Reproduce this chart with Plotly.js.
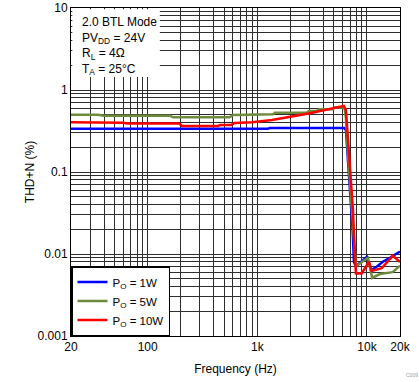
<!DOCTYPE html>
<html>
<head>
<meta charset="utf-8">
<script src="https://cdn.plot.ly/plotly-3.0.1.min.js"></script>
<style>html,body{margin:0;padding:0;background:#fff;}#chart{width:419px;height:382px;}</style>
</head>
<body>
<div id="chart"></div>
<script>
// Frequency (Hz) and THD+N (%)
const freq1W = [20, 1250, 1300, 6200, 6425, 6600, 7090, 7400, 7600, 7925, 9980, 11020, 12240, 14060, 16180, 20000];
const thd1W  = [0.337, 0.337, 0.345, 0.345, 0.325, 0.185, 0.0456, 0.0196, 0.0080, 0.0071, 0.0092, 0.0064, 0.0070, 0.0081, 0.0090, 0.0107];

const freq5W = [20, 35, 40, 160, 170, 560, 600, 900, 950, 1390, 1450, 2830, 2950, 3500, 3650, 4890, 5050, 6040, 6250, 6425, 6700, 7250, 7550, 7925, 10200, 11160, 13120, 17140, 20000];
const thd5W  = [0.50, 0.50, 0.486, 0.486, 0.465, 0.465, 0.497, 0.497, 0.506, 0.506, 0.529, 0.529, 0.555, 0.555, 0.582, 0.582, 0.612, 0.615, 0.60, 0.45, 0.17, 0.04, 0.016, 0.0071, 0.0090, 0.0051, 0.0057, 0.0060, 0.0072];

const freq10W = [20, 60, 65, 195, 205, 440, 460, 580, 620, 900, 1360, 3020, 4890, 6160, 6425, 6840, 7450, 7680, 7925, 8930, 10420, 11020, 13600, 17220, 20000];
const thd10W  = [0.405, 0.40, 0.39, 0.39, 0.365, 0.365, 0.375, 0.375, 0.396, 0.405, 0.43, 0.52, 0.598, 0.64, 0.57, 0.161, 0.0344, 0.0129, 0.0058, 0.0058, 0.0080, 0.0062, 0.0067, 0.0095, 0.0080];

const seriesNames = ['P<sub>O</sub> = 1W', 'P<sub>O</sub> = 5W', 'P<sub>O</sub> = 10W'];

const xTickVals = [20, 30, 40, 50, 60, 70, 80, 90, 100, 200, 300, 400, 500, 600, 700, 800, 900, 1000, 2000, 3000, 4000, 5000, 6000, 7000, 8000, 9000, 10000, 20000];
const xTickText = ['20', '', '', '', '', '', '', '', '100', '', '', '', '', '', '', '', '', '1k', '', '', '', '', '', '', '', '', '10k', '20k'];

const yTickVals = [0.001, 0.002, 0.003, 0.004, 0.005, 0.006, 0.007, 0.008, 0.009, 0.01, 0.02, 0.03, 0.04, 0.05, 0.06, 0.07, 0.08, 0.09, 0.1, 0.2, 0.3, 0.4, 0.5, 0.6, 0.7, 0.8, 0.9, 1, 2, 3, 4, 5, 6, 7, 8, 9, 10];
const yTickText = ['0.001', '', '', '', '', '', '', '', '', '0.01', '', '', '', '', '', '', '', '', '0.1', '', '', '', '', '', '', '', '', '1', '', '', '', '', '', '', '', '', '10'];

const conditionsText = '2.0 BTL Mode<br>PV<sub>DD</sub> = 24V<br>R<sub>L</sub> = 4Ω<br>T<sub>A</sub> = 25°C';

const FONT = 'Liberation Sans, Arial, sans-serif';
const GRID = '#2e2e2e';

const traces = [
  {x: freq1W, y: thd1W, name: seriesNames[0], line: {color: '#0000FF', width: 2.5}},
  {x: freq5W, y: thd5W, name: seriesNames[1], line: {color: '#6E8B3D', width: 2.5}},
  {x: freq10W, y: thd10W, name: seriesNames[2], line: {color: '#FF0000', width: 2.5}}
].map(t => Object.assign({type: 'scatter', mode: 'lines'}, t));

const layout = {
  width: 419, height: 382,
  margin: {l: 71, r: 19, t: 8, b: 46},
  paper_bgcolor: '#ffffff', plot_bgcolor: '#ffffff',
  font: {family: FONT, size: 12, color: '#000'},
  showlegend: true,
  legend: {
    x: 0, y: 0, xanchor: 'left', yanchor: 'bottom',
    bgcolor: '#ffffff', bordercolor: '#000', borderwidth: 1.5,
    font: {family: FONT, size: 11.5, color: '#000'},
    tracegroupgap: 0, itemwidth: 30
  },
  xaxis: {
    type: 'log', range: [Math.log10(20), Math.log10(20000)],
    tickmode: 'array', tickvals: xTickVals, ticktext: xTickText,
    ticks: '', showgrid: true, gridcolor: GRID, gridwidth: 1,
    showline: true, linecolor: '#000', linewidth: 1, mirror: true,
    zeroline: false, automargin: false,
    tickfont: {family: FONT, size: 12, color: '#000'},
    title: {text: 'Frequency (Hz)', font: {family: FONT, size: 12, color: '#000'}, standoff: 11}
  },
  yaxis: {
    type: 'log', range: [-3, 1],
    tickmode: 'array', tickvals: yTickVals, ticktext: yTickText,
    ticks: '', showgrid: true, gridcolor: GRID, gridwidth: 1,
    showline: true, linecolor: '#000', linewidth: 1, mirror: true,
    zeroline: false, automargin: false,
    tickfont: {family: FONT, size: 12, color: '#000'},
    title: {text: 'THD+N (%)', font: {family: FONT, size: 12, color: '#000'}, standoff: 0}
  },
  shapes: [{
    type: 'rect', xref: 'paper', yref: 'paper', layer: 'above',
    x0: 0.004, x1: 0.27, y0: 0.79, y1: 0.996,
    fillcolor: '#ffffff', line: {width: 0}
  }],
  annotations: [
    {xref: 'paper', yref: 'paper', x: 0.027, y: 0.985, xanchor: 'left', yanchor: 'top',
     align: 'left', showarrow: false, text: conditionsText,
     font: {family: FONT, size: 12, color: '#000'}},
    {xref: 'paper', yref: 'paper', x: 1.035, y: -0.12, xanchor: 'center', yanchor: 'middle',
     showarrow: false, text: 'C009', font: {family: FONT, size: 5, color: '#999'}}
  ]
};

Plotly.newPlot('chart', traces, layout, {displayModeBar: false, staticPlot: true});
</script>
</body>
</html>
